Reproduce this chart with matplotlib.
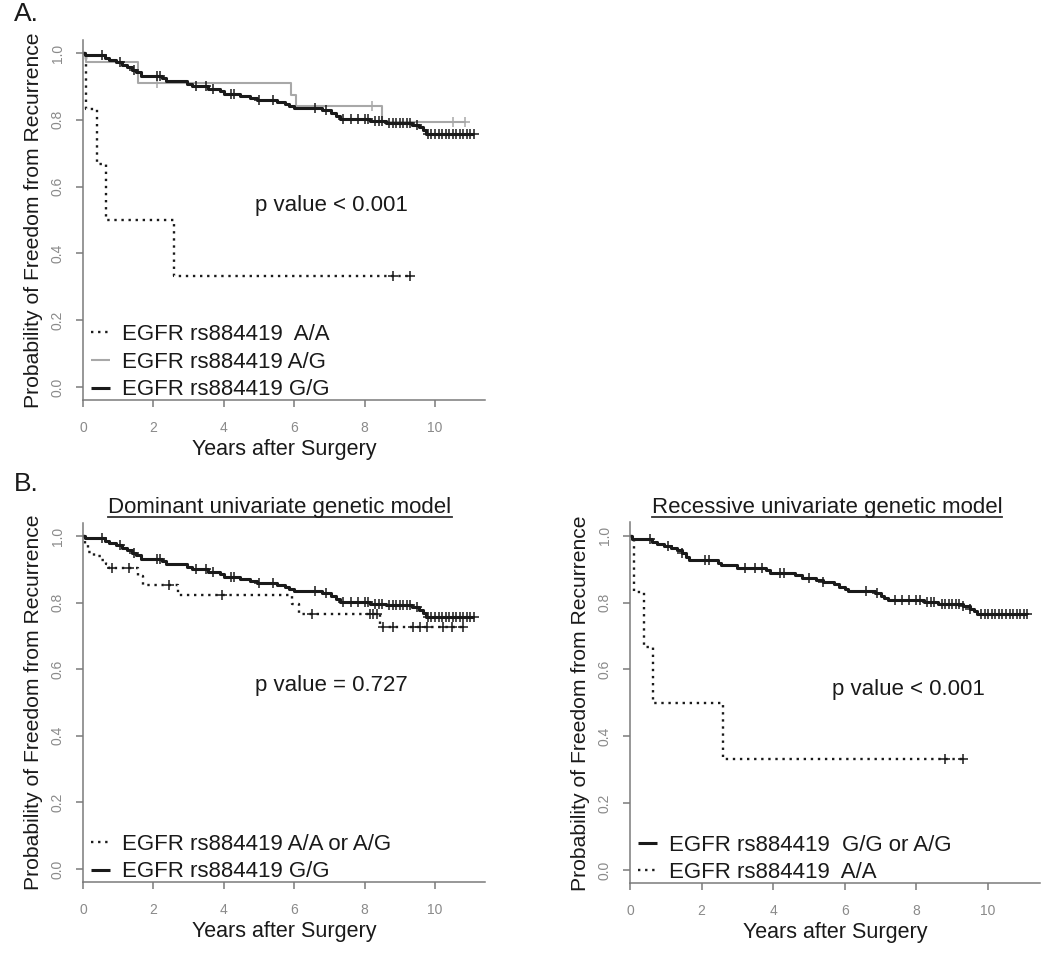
"""Kaplan-Meier curves for EGFR rs884419 genotypes (panels A and B)."""

import numpy as np
import matplotlib

matplotlib.use("Agg")
import matplotlib.pyplot as plt
from matplotlib.lines import Line2D

plt.rcParams["font.family"] = ["Liberation Sans", "DejaVu Sans"]

INK = "#1a1a1a"
AXIS_GRAY = "#7a7a7a"
TICK_GRAY = "#8a8a8a"
LIGHT = "#a8a8a8"

# --- data: event times, survival after each event, censor times (years) ---
GG_T = [0.05, 0.62, 0.75, 0.95, 1.1, 1.25, 1.4, 1.5, 1.65, 2.25, 2.35, 2.95, 3.1,
        3.55, 3.9, 4.0, 4.45, 4.75, 4.95, 5.5, 5.75, 5.85, 6.0, 6.8, 7.05, 7.2,
        7.3, 8.15, 8.6, 9.35, 9.55, 9.65, 9.75]
GG_S = [0.995, 0.985, 0.978, 0.972, 0.965, 0.958, 0.950, 0.943, 0.932, 0.925,
        0.916, 0.908, 0.900, 0.893, 0.885, 0.878, 0.872, 0.866, 0.859, 0.853,
        0.846, 0.840, 0.834, 0.828, 0.820, 0.812, 0.803, 0.797, 0.792, 0.786,
        0.778, 0.770, 0.758]
GG_C = [0.55, 1.05, 1.45, 2.1, 2.2, 3.2, 3.5, 3.7, 4.2, 4.3, 5.0, 5.4, 6.6, 6.9,
        7.4, 7.6, 7.8, 8.0, 8.1, 8.3, 8.4, 8.5, 8.7, 8.8, 8.9, 9.0, 9.1, 9.2,
        9.3, 9.5, 9.8, 9.9, 10.0, 10.1, 10.2, 10.3, 10.4, 10.5, 10.6, 10.7,
        10.8, 10.9, 11.0, 11.1]

AG_T = [0.1, 1.55, 5.9, 6.05, 8.5]
AG_S = [0.973, 0.910, 0.875, 0.840, 0.795]
AG_C = [2.1, 8.2, 10.5, 10.85]

AA_T = [0.1, 0.4, 0.65, 2.6]
AA_S = [0.833, 0.667, 0.500, 0.333]
AA_C = [8.8, 9.3]

# dominant model: A/A or A/G
DOM_T = [0.05, 0.15, 0.3, 0.5, 0.65, 0.75, 1.55, 1.7, 2.7, 5.95, 6.15, 8.45]
DOM_S = [0.976, 0.952, 0.940, 0.928, 0.916, 0.904, 0.880, 0.852, 0.823, 0.795,
         0.767, 0.728]
DOM_C = [0.82, 1.3, 2.45, 3.95, 6.5, 8.15, 8.25, 8.35, 8.53, 8.8, 9.37, 9.57,
         9.77, 10.23, 10.48, 10.8]

# recessive model: G/G or A/G
REC_T = [0.05, 0.62, 0.75, 0.95, 1.15, 1.3, 1.45, 1.55, 1.65, 2.45, 2.55, 3.0,
         3.8, 3.9, 4.6, 4.8, 5.2, 5.4, 5.7, 5.85, 6.0, 6.1, 6.85, 7.0, 7.1,
         7.2, 8.2, 8.6, 9.3, 9.5, 9.6, 9.7]
REC_S = [0.990, 0.983, 0.977, 0.971, 0.964, 0.957, 0.948, 0.938, 0.928, 0.920,
         0.913, 0.904, 0.897, 0.889, 0.882, 0.875, 0.869, 0.862, 0.855, 0.848,
         0.841, 0.834, 0.828, 0.821, 0.815, 0.809, 0.803, 0.797, 0.790, 0.782,
         0.774, 0.765]
REC_C = GG_C

GENO = "EGFR rs884419"


def km(ax, ev_t, ev_s, cens, color, lw, ls="-", label=None):
    ev_t = np.asarray(ev_t)
    ev_s = np.asarray(ev_s)
    cens = np.asarray(cens)
    t_end = max(cens.max(), ev_t.max())
    t = np.r_[0.0, ev_t, t_end]
    s = np.r_[1.0, ev_s, ev_s[-1]]
    (line,) = ax.step(t, s, where="post", color=color, lw=lw, ls=ls, label=label,
                      solid_capstyle="butt")
    s_c = np.r_[1.0, ev_s][np.searchsorted(ev_t, cens, side="right")]
    ax.plot(cens, s_c, ls="none", marker="+", ms=7, mew=1.1, color=color)
    return line


def style_axes(ax, xmax):
    ax.set_xlim(0, xmax)
    ax.set_ylim(-0.04, 1.04)
    for side in ("top", "right"):
        ax.spines[side].set_visible(False)
    for side in ("left", "bottom"):
        ax.spines[side].set_color(AXIS_GRAY)
        ax.spines[side].set_linewidth(1.1)
    ax.set_xticks([0, 2, 4, 6, 8, 10])
    ax.set_yticks([0.0, 0.2, 0.4, 0.6, 0.8, 1.0])
    ax.set_yticklabels(["0.0", "0.2", "0.4", "0.6", "0.8", "1.0"], rotation=90,
                       va="center")
    ax.tick_params(colors=AXIS_GRAY, labelcolor=TICK_GRAY, labelsize=10,
                   length=5, width=1.1, pad=8)
    ax.tick_params(axis="x", pad=10)
    ax.set_xlabel("Years after Surgery", fontsize=15.5, color=INK, labelpad=3)
    ax.set_ylabel("Probability of Freedom from Recurrence", fontsize=15.2,
                  color=INK, labelpad=6)


def legend(ax, handles, labels):
    ax.legend(handles, labels, loc="lower left", bbox_to_anchor=(0.02, 0.0),
              frameon=False, fontsize=16, handlelength=0.85, handletextpad=0.55,
              labelspacing=0.3, borderpad=0, borderaxespad=0,
              labelcolor=INK)


def underlined_title(fig, x, y, text):
    t = fig.text(x, y, text, ha="center", va="center", fontsize=16, color=INK)
    fig.canvas.draw()
    bb = t.get_window_extent().transformed(fig.transFigure.inverted())
    fig.add_artist(Line2D([bb.x0, bb.x1], [bb.y0 + 0.001, bb.y0 + 0.001],
                          transform=fig.transFigure, color="#333333", lw=1.3))


fig = plt.figure(figsize=(10.5, 9.58), dpi=100)

ax_a = fig.add_axes([0.079, 0.582, 0.3829, 0.3766])
ax_d = fig.add_axes([0.079, 0.079, 0.3829, 0.3754])
ax_r = fig.add_axes([0.600, 0.078, 0.3905, 0.3766])

# panel A
h_aa = km(ax_a, AA_T, AA_S, AA_C, INK, 1.7, ls=(0, (1, 2)))
h_ag = km(ax_a, AG_T, AG_S, AG_C, LIGHT, 1.5)
h_gg = km(ax_a, GG_T, GG_S, GG_C, INK, 2.2)
style_axes(ax_a, 11.42)
ax_a.text(7.07, 0.545, "p value < 0.001", ha="center", va="center", fontsize=16,
          color=INK)
legend(ax_a, [h_aa, h_ag, h_gg],
       [f"{GENO}  A/A", f"{GENO} A/G", f"{GENO} G/G"])

# panel B, dominant
h_dom = km(ax_d, DOM_T, DOM_S, DOM_C, INK, 1.7, ls=(0, (1, 2)))
h_gg2 = km(ax_d, GG_T, GG_S, GG_C, INK, 2.2)
style_axes(ax_d, 11.42)
ax_d.text(7.05, 0.55, "p value = 0.727", ha="center", va="center", fontsize=16,
          color=INK)
legend(ax_d, [h_dom, h_gg2], [f"{GENO} A/A or A/G", f"{GENO} G/G"])

# panel B, recessive
h_rec = km(ax_r, REC_T, REC_S, REC_C, INK, 2.2)
h_aa2 = km(ax_r, AA_T, AA_S, AA_C, INK, 1.7, ls=(0, (1, 2)))
style_axes(ax_r, 11.45)
ax_r.text(7.77, 0.54, "p value < 0.001", ha="center", va="center", fontsize=16,
          color=INK)
legend(ax_r, [h_rec, h_aa2], [f"{GENO}  G/G or A/G", f"{GENO}  A/A"])

fig.text(0.013, 0.9855, "A.", fontsize=19, color=INK, ha="left", va="center")
fig.text(0.013, 0.4948, "B.", fontsize=19, color=INK, ha="left", va="center")

underlined_title(fig, 280 / 1050, 1 - 507 / 958,
                 "Dominant univariate genetic model")
underlined_title(fig, 827 / 1050, 1 - 507 / 958,
                 "Recessive univariate genetic model")

fig.savefig("out.png", dpi=100, facecolor="white")
